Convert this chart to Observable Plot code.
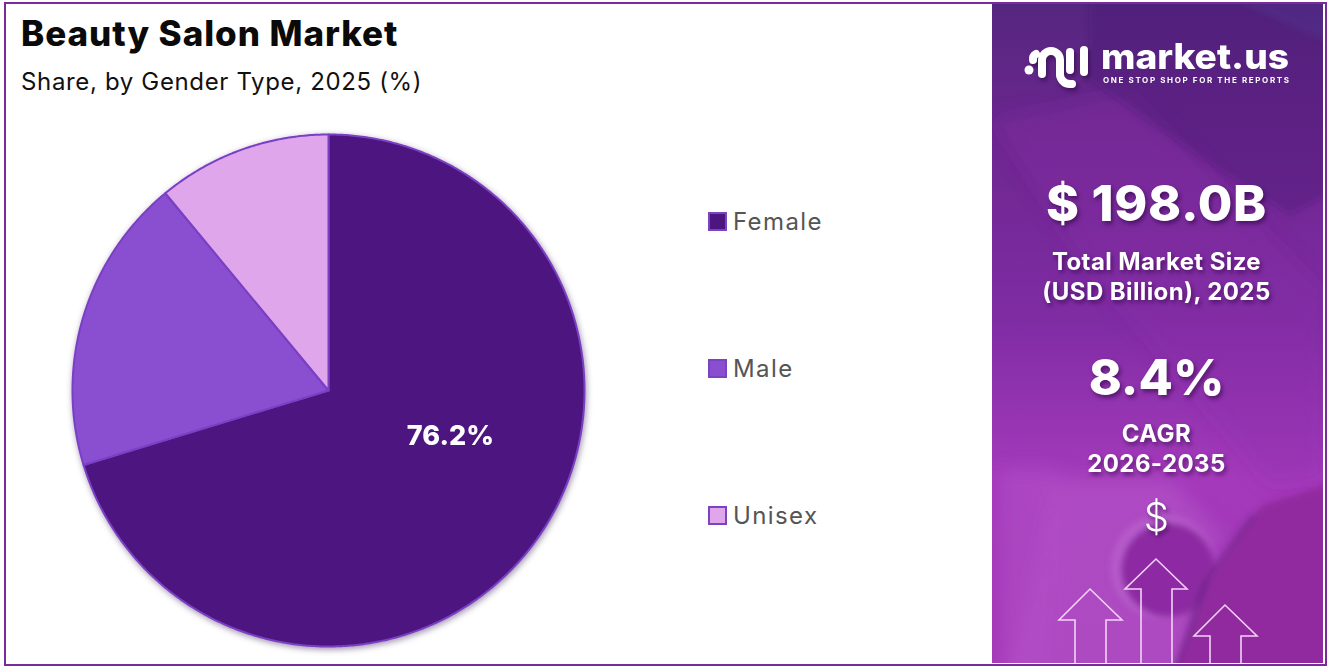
<!DOCTYPE html>
<html>
<head>
<meta charset="utf-8">
<script src="https://cdn.jsdelivr.net/npm/d3@7"></script>
<script src="https://cdn.jsdelivr.net/npm/@observablehq/plot@0.6"></script>
<style>
html,body{margin:0;padding:0;background:#fff;overflow:hidden}
#page{position:relative;width:1327px;height:667px;overflow:hidden;font-family:Inter,"Open Sans",sans-serif}
#frame{position:absolute;left:4px;top:2px;width:1319px;height:660px;border:2px solid #7b2a9c;box-sizing:content-box;pointer-events:none}
#title{position:absolute;left:21px;top:13px;font-size:35px;line-height:40px;font-weight:800;letter-spacing:.95px;color:#0a0a0a;white-space:nowrap}
#subtitle{position:absolute;left:21px;top:66px;font-size:24px;line-height:32px;font-weight:400;letter-spacing:.65px;color:#111;white-space:nowrap}
#chart{position:absolute;left:62px;top:124px;width:532px;height:532px;filter:drop-shadow(1px 2px 3px rgba(40,10,70,.45))}
#chart svg{display:block;overflow:visible;background:transparent}
.lg{position:absolute;left:708px;display:flex;align-items:center;height:30px;font-size:24px;letter-spacing:1.4px;color:#555;white-space:nowrap}
.lg i{display:block;width:15px;height:15px;border:2px solid #7a43c0;margin-right:6px}
#panel{position:absolute;left:992px;top:3px;width:331px;height:660px;overflow:hidden;background:linear-gradient(180deg,#55267f 0%,#6e2791 22%,#7f2ca3 48%,#a43abb 72%,#a337b6 100%)}
#deco{position:absolute;left:0;top:0}
.p{position:absolute;left:0;width:329px;text-align:center;color:#fff;white-space:nowrap;text-shadow:2px 3px 4px rgba(40,0,60,.55)}
.big{font-size:50px;line-height:56px;font-weight:800}
.mid{font-size:24px;line-height:30px;font-weight:700;letter-spacing:.4px}
</style>
</head>
<body>
<div id="page">
  <div id="title"></div>
  <div id="subtitle"></div>
  <div id="chart"></div>
  <div id="legend"></div>
  <div id="panel">
    <svg id="deco" width="331" height="660" viewBox="992 3 331 660">
      <defs>
        <filter id="soft" x="-10%" y="-10%" width="120%" height="120%"><feGaussianBlur stdDeviation="3"/></filter>
        <filter id="softer" x="-20%" y="-20%" width="140%" height="140%"><feGaussianBlur stdDeviation="9"/></filter>
      </defs>
      <g filter="url(#softer)">
        <polygon points="992,120 1130,90 1323,290 1323,480 1270,485 1080,260" fill="#8a30a8" opacity=".3"/>
        <polygon points="1055,480 1170,480 1225,540 1205,560 1195,680 1010,680" fill="#b659cb" opacity=".55"/>
        <polygon points="1000,470 1060,470 1040,680 1000,680" fill="#b44fc9" opacity=".55"/>
      </g>
      <g filter="url(#soft)">
        <polygon points="1090,-5 1335,-5 1335,190 1290,215 1190,150 1090,80" fill="#4a1f75" opacity=".4"/>
        <polygon points="1225,-5 1335,-5 1335,45" fill="#4f3590" opacity=".45"/>
        <circle cx="1163" cy="567" r="52" fill="#bb62cf" opacity=".7"/>
        <circle cx="1168" cy="570" r="47" fill="#8d2ca3"/>
        <polygon points="1170,680 1215,570 1262,505 1335,482 1335,680" fill="#91299f"/>
        <polygon points="1175,680 1212,575 1258,515 1250,515 1200,585 1170,680" fill="#6d2487" opacity=".6"/>
      </g>
      <g fill="none" stroke="#f3d2f7" stroke-width="1.6">
        <path d="M1075 663V620H1059L1090 589L1122 620H1106V663"/>
        <path d="M1141 663V589H1125L1156 559L1187 589H1172V663"/>
        <path d="M1210 663V636H1194L1225 605L1257 636H1241V663"/>
      </g>
      <g fill="none" stroke="#fff" stroke-width="8" stroke-linecap="round" style="filter:drop-shadow(2px 3px 2px rgba(30,0,50,.5))">
        <path d="M1033 60a6 6 0 0 1 3-6"/>
        <path d="M1042 74V60a9 9 0 0 1 18 0V73a10 10 0 0 0 10 11h2"/>
        <path d="M1070 52V70"/>
        <path d="M1084 50V72"/>
      </g>
      <circle cx="1029" cy="70" r="4.5" fill="#fff"/>
      <text x="1101" y="69" font-size="35" font-weight="800" fill="#fff" textLength="188" lengthAdjust="spacingAndGlyphs" font-family="Inter">market.us</text>
      <text x="1103" y="83" font-size="8" font-weight="700" fill="#fff" textLength="186" font-family="Inter">ONE STOP SHOP FOR THE REPORTS</text>
    </svg>
    <div class="p big" style="top:172px;letter-spacing:.7px">$ 198.0B</div>
    <div class="p mid" style="top:244px">Total Market Size</div>
    <div class="p mid" style="top:274px">(USD Billion), 2025</div>
    <div class="p big" style="top:346px">8.4%</div>
    <div class="p mid" style="top:416px">CAGR</div>
    <div class="p mid" style="top:446px">2026-2035</div>
    <div class="p" style="top:490px;font-size:40px;line-height:48px;font-weight:300">$</div>
  </div>
  <div id="frame"></div>
</div>
<script>
const titleText = "Beauty Salon Market";
const subtitleText = "Share, by Gender Type, 2025 (%)";
const categories = ["Female", "Male", "Unisex"];
const shares = [70.3, 18.7, 11.0];
const sliceLabels = ["76.2%", "", ""];
const colors = ["#4d1580", "#8a4fd0", "#e0a6ec"];

document.getElementById("title").textContent = titleText;
document.getElementById("subtitle").textContent = subtitleText;

const pie = d3.pie().sort(null).value(d => d)(shares);
function wedge(a0, a1) {
  const ring = [[0, 0]];
  const n = Math.ceil((a1 - a0) / (Math.PI / 360));
  for (let i = 0; i <= n; i++) {
    const a = a0 + (a1 - a0) * i / n;
    ring.push([Math.sin(a), -Math.cos(a)]);
  }
  ring.push([0, 0]);
  return {type: "Polygon", coordinates: [ring]};
}
const slices = categories.map((name, i) => ({
  name, share: shares[i], label: sliceLabels[i],
  geometry: wedge(pie[i].startAngle, pie[i].endAngle)
}));
const outline = {type: "Polygon", coordinates: [d3.range(0, 361, 2).map(a => [Math.sin(a * Math.PI / 180), -Math.cos(a * Math.PI / 180)])]};

const plot = Plot.plot({
  width: 532, height: 532, margin: 0,
  style: {background: "transparent", overflow: "visible"},
  projection: {type: "identity", domain: outline, inset: 10},
  color: {domain: categories, range: colors},
  marks: [
    Plot.geo(slices, {geometry: d => d.geometry, fill: "name", stroke: "#7a3fc4", strokeWidth: 2}),
    Plot.text(slices.filter(d => d.label), Plot.centroid({
      geometry: d => d.geometry, text: "label", fill: "#fff",
      fontSize: 27, fontWeight: 800, fontFamily: "Inter", dx: 72, dy: 9
    }))
  ]
});
document.getElementById("chart").appendChild(plot);

const legendTops = [206, 353, 500];
const legend = document.getElementById("legend");
categories.forEach((name, i) => {
  const row = document.createElement("div");
  row.className = "lg";
  row.style.top = legendTops[i] + "px";
  const sw = document.createElement("i");
  sw.style.background = colors[i];
  row.appendChild(sw);
  row.appendChild(document.createTextNode(name));
  legend.appendChild(row);
});
</script>
</body>
</html>
